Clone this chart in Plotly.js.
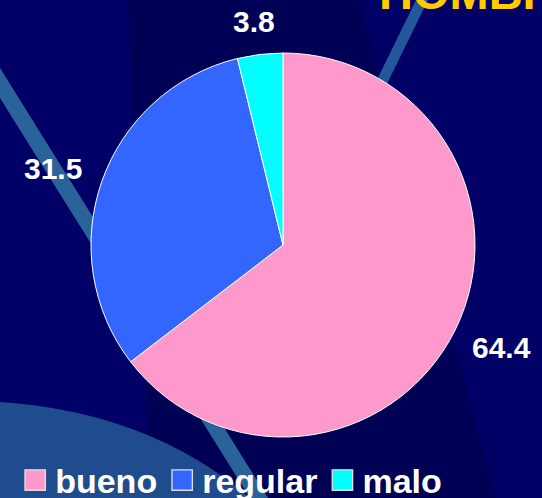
<!DOCTYPE html>
<html>
<head>
<meta charset="utf-8">
<script src="https://cdn.plot.ly/plotly-3.0.1.min.js"></script>
<style>html,body{margin:0;padding:0;background:#000066;}#chart{width:542px;height:498px;}</style>
</head>
<body>
<div id="chart"></div>
<script>
// Data
const categories = ["bueno", "regular", "malo"];
const values = [64.4, 31.5, 3.8];
const sliceColors = ["#FF99CC", "#3366FF", "#00FFFF"];
const titleText = "HOMBRES";

const W = 542, H = 498;
// pie placement (layout)
const CX = 283, CY = 245, R = 192;
const FONT = "Liberation Sans, Arial, sans-serif";

function px(x){ return (x / W).toFixed(4); }
function py(y){ return (1 - y / H).toFixed(4); }
function path(pts){ return "M" + pts.map(p => px(p[0]) + "," + py(p[1])).join(" L") + " Z"; }

const shapes = [
  {type:"path", xref:"paper", yref:"paper", layer:"below", line:{width:0}, fillcolor:"#000055",
   path: path([[128,0],[359,0],[496,498],[150,498]])},
  {type:"path", xref:"paper", yref:"paper", layer:"below", line:{width:0}, fillcolor:"#2A6399",
   path: path([[0,68],[0,98],[250,498],[268,498]])},
  {type:"path", xref:"paper", yref:"paper", layer:"below", line:{width:0}, fillcolor:"#24579A",
   path: path([[416,0],[428,0],[340,180],[328,180]])},
  {type:"path", xref:"paper", yref:"paper", layer:"below", line:{width:0}, fillcolor:"#1F4C8C",
   path: "M" + px(0) + "," + py(402) + " Q" + px(150) + "," + py(412) + " " + px(250) + "," + py(498) + " L" + px(0) + "," + py(498) + " Z"}
];

// value labels placed just outside each slice (from the values)
const total = values.reduce((a, b) => a + b, 0);
const labelFont = {color: "#FFFFFF", size: 30, family: FONT, weight: "bold"};
const GAP = 20, HALF_W = 32, HALF_H = 13;
let cum = 0;
const labelAnnotations = values.map(v => {
  const mid = (cum + v / 2) / total * 2 * Math.PI; // clockwise from 12 o'clock
  cum += v;
  const s = Math.sin(mid), c = Math.cos(mid);
  const ex = CX + (R + GAP) * s, ey = CY - (R + GAP) * c;
  const lx = ex + HALF_W * s;
  const ly = ey - HALF_H * Math.max(-1, Math.min(1, 1.5 * c));
  return {
    text: String(v), xref: "paper", yref: "paper",
    x: lx / W, y: 1 - ly / H, xanchor: "center", yanchor: "middle",
    showarrow: false, font: labelFont
  };
});

const trace = {
  type: "pie",
  labels: categories,
  values: values,
  sort: false,
  direction: "clockwise",
  rotation: 0,
  marker: {colors: sliceColors, line: {color: "#FFFFFF", width: 1}},
  textinfo: "none",
  domain: {x: [(CX - R) / W, (CX + R) / W], y: [(H - CY - R) / H, (H - CY + R) / H]},
  hoverinfo: "label+value"
};

const layout = {
  width: W, height: H,
  margin: {l:0, r:0, t:0, b:0, autoexpand: false},
  paper_bgcolor: "#000066",
  plot_bgcolor: "#000066",
  showlegend: true,
  legend: {
    orientation: "h",
    x: 0.028, xanchor: "left",
    y: -0.023, yanchor: "bottom",
    bgcolor: "rgba(0,0,0,0)",
    font: {color: "#FFFFFF", size: 34, family: FONT, weight: "bold"},
    traceorder: "normal"
  },
  shapes: shapes,
  annotations: labelAnnotations.concat([{
    text: titleText, xref: "paper", yref: "paper",
    x: 377 / W, xanchor: "left", y: 1 - 21 / H, yanchor: "bottom",
    showarrow: false,
    font: {color: "#FFCC00", size: 47, family: FONT, weight: "bold"}
  }])
};

Plotly.newPlot("chart", [trace], layout, {staticPlot: true, displayModeBar: false}).then(gd => {
  gd.querySelectorAll(".legendpoints path").forEach(p => {
    const t = p.getAttribute("transform") || "";
    p.setAttribute("transform", t + " scale(1.7)");
    p.style.strokeWidth = "0.8px";
    p.style.stroke = "#DDDDDD";
  });
});
</script>
</body>
</html>
